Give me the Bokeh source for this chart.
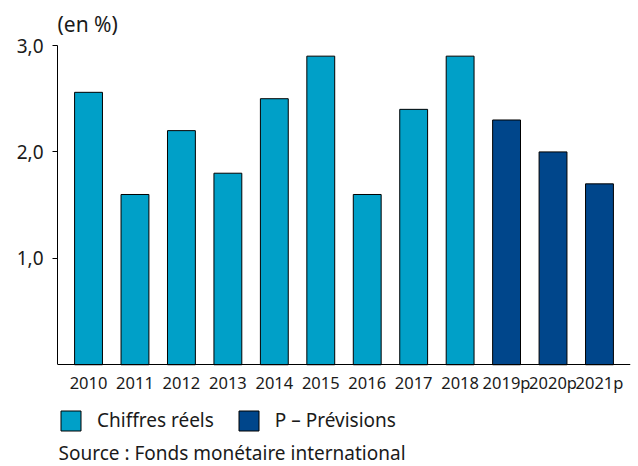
from bokeh.plotting import figure
from bokeh.models import (FactorRange, Range1d, FixedTicker, Legend, LegendItem,
                          ColumnDataSource, Label)
from bokeh.embed import file_html
from bokeh.resources import INLINE

years_real = ["2010", "2011", "2012", "2013", "2014", "2015", "2016", "2017", "2018"]
values_real = [2.56, 1.6, 2.2, 1.8, 2.5, 2.9, 1.6, 2.4, 2.9]
years_fcst = ["2019p", "2020p", "2021p"]
values_fcst = [2.3, 2.0, 1.7]
y_ticks = [1, 2, 3]
y_tick_labels = ["1,0", "2,0", "3,0"]

FONT = "Noto Sans"
TXT = "#1a1a1a"
LIGHT = "#00A0C8"
DARK = "#00468B"

categories = years_real + years_fcst

# frame runs to the bottom of the canvas; space below the value 0 holds
# the x labels, legend and source note
p = figure(width=638, height=466, output_backend="svg", toolbar_location=None,
           x_range=FactorRange(factors=categories, range_padding=0.028),
           y_range=Range1d(-0.956, 3.0),
           min_border_left=57, min_border_right=8, min_border_top=44, min_border_bottom=0)

src_r = ColumnDataSource(dict(x=years_real, top=values_real))
src_f = ColumnDataSource(dict(x=years_fcst, top=values_fcst))
r1 = p.vbar(x="x", top="top", bottom=0, width=0.6, source=src_r,
            fill_color=LIGHT, line_color="black", line_width=1)
r2 = p.vbar(x="x", top="top", bottom=0, width=0.6, source=src_f,
            fill_color=DARK, line_color="black", line_width=1)

p.outline_line_color = None
p.grid.grid_line_color = None

# y axis
p.yaxis.ticker = FixedTicker(ticks=y_ticks)
p.yaxis.major_label_overrides = {t: l for t, l in zip(y_ticks, y_tick_labels)}
p.yaxis.bounds = (0, 3)
p.yaxis.minor_tick_line_color = None
p.yaxis.major_tick_in = 0
p.yaxis.major_tick_out = 5
p.yaxis.major_label_standoff = 9
p.yaxis.axis_line_color = "black"
p.yaxis.major_tick_line_color = "black"
p.yaxis.major_label_text_font = FONT
p.yaxis.major_label_text_font_size = "19px"
p.yaxis.major_label_text_color = TXT

# x axis, pinned at value 0
p.xaxis.fixed_location = 0
p.xaxis.major_tick_line_color = None
p.xaxis.minor_tick_line_color = None
p.xaxis.axis_line_color = "black"
p.xaxis.major_label_standoff = 0
p.xaxis.major_label_text_font = FONT
p.xaxis.major_label_text_font_size = "16.5px"
p.xaxis.major_label_text_color = TXT

# title
p.title.text = "(en %)"
p.title.align = "left"
p.title.text_font = FONT
p.title.text_font_size = "21px"
p.title.text_font_style = "normal"
p.title.text_color = TXT
p.title.standoff = 15

legend = Legend(items=[LegendItem(label="Chiffres réels", renderers=[r1]),
                       LegendItem(label="P – Prévisions", renderers=[r2])],
                orientation="horizontal", location=(1, 33),
                glyph_width=25, glyph_height=25, label_standoff=14, spacing=22,
                padding=0, margin=0, border_line_color=None,
                background_fill_alpha=0,
                label_text_font=FONT, label_text_font_size="19px",
                label_text_color=TXT)
p.add_layout(legend, "center")

source_note = Label(x=1, y=14, x_units="screen", y_units="screen",
                    text="Source : Fonds monétaire international",
                    text_font=FONT, text_font_size="19px", text_color=TXT,
                    text_baseline="alphabetic", text_align="left")
p.add_layout(source_note)

open("out.html", "w").write(file_html(p, INLINE))
